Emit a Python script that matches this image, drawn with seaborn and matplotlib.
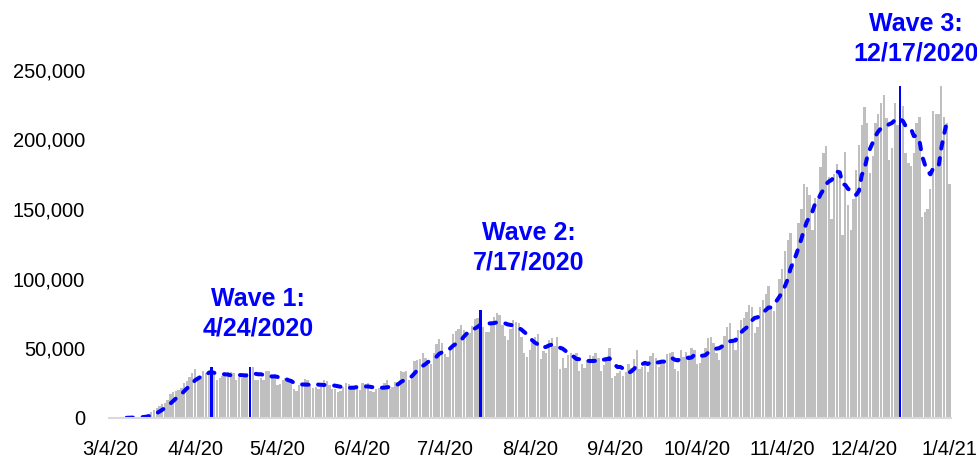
import numpy as np
import pandas as pd
import seaborn as sns
import matplotlib
matplotlib.use('Agg')
import matplotlib.pyplot as plt
import matplotlib.dates as mdates
from matplotlib.ticker import FuncFormatter

# Daily new cases (thousands).
mar = [0.03, 0.07, 0.06, 0.1, 0.1, 0.2, 0.3, 0.4, 0.5, 0.6, 0.7, 0.8, 1.3, 1.8,
       2.9, 4.6, 5.9, 7.0, 8.5, 10.3, 10.8, 12.6, 17.5, 18.7, 19.5, 19.8, 21.3, 24.9]  # 3/4 - 3/31
apr = [26.5, 29.5, 32.5, 35.0, 28.5, 30.0, 33.5, 32.5, 34.5, 36.6, 31.0, 27.5, 28.5, 30.0, 31.5,
       33.0, 33.0, 32.0, 27.0, 29.5, 29.0, 31.0, 32.0, 36.6, 36.5, 27.5, 27.0, 29.0, 27.5, 33.5]
may = [34.0, 29.5, 29.0, 24.0, 24.5, 27.0, 28.5, 27.5, 25.5, 20.5, 19.5, 24.0, 23.0, 28.0, 27.5,
       24.5, 21.5, 22.0, 21.0, 22.5, 27.0, 26.5, 24.0, 21.0, 20.5, 18.5, 19.5, 22.5, 25.0, 24.5, 22.0]
jun = [20.5, 21.5, 20.0, 25.0, 24.5, 25.0, 19.5, 18.5, 20.5, 21.5, 22.5, 25.0, 27.0, 21.0, 22.0,
       26.0, 25.5, 34.0, 33.0, 34.0, 27.0, 30.0, 41.0, 41.5, 42.0, 46.5, 43.0, 38.0, 38.5, 47.0]
jul = [53.0, 56.5, 54.0, 46.0, 44.0, 49.0, 60.0, 62.5, 64.0, 66.5, 63.0, 58.5, 61.0, 66.0, 71.0,
       72.0, 77.5, 65.0, 62.0, 61.5, 66.5, 72.5, 75.5, 74.0, 67.0, 58.5, 56.0, 64.0, 70.0, 69.0, 68.0]
aug = [58.0, 47.0, 44.0, 49.0, 53.5, 58.0, 60.5, 42.0, 48.0, 46.5, 56.0, 57.5, 52.0, 58.0, 35.0,
       43.0, 36.0, 45.0, 47.0, 44.0, 46.5, 34.0, 38.5, 36.0, 41.5, 45.5, 44.5, 47.0, 43.0, 33.5, 38.0]
sep = [44.0, 50.0, 28.5, 30.0, 32.0, 34.0, 30.0, 33.0, 39.0, 36.0, 42.5, 49.0, 35.0, 36.5, 39.0,
       33.0, 44.5, 47.0, 43.0, 36.5, 40.0, 39.5, 46.0, 47.0, 47.5, 35.5, 34.0, 48.5, 43.5, 47.5]
octo = [45.0, 50.0, 49.0, 38.5, 39.5, 43.5, 50.0, 57.5, 58.0, 53.5, 46.5, 41.5, 52.0, 58.5, 65.0,
        68.5, 56.0, 48.5, 63.0, 70.0, 72.0, 76.0, 81.0, 80.0, 61.0, 65.5, 80.0, 85.0, 89.0, 94.5, 80.0]
nov = [77.0, 84.0, 100.0, 107.0, 120.0, 128.0, 133.0, 111.0, 118.0, 140.0, 150.0, 168.0, 166.0, 160.0, 135.0,
       158.0, 157.0, 180.0, 190.0, 195.0, 173.0, 143.0, 175.0, 182.0, 176.0, 131.0, 191.0, 153.0, 135.0, 157.0]
dec = [178.0, 196.0, 210.0, 223.0, 212.0, 176.0, 188.0, 212.0, 218.0, 226.0, 232.0, 215.0, 185.0, 194.0, 226.0,
       210.0, 238.0, 224.0, 190.0, 183.0, 181.0, 190.0, 212.0, 216.0, 144.0, 148.0, 150.0, 164.0, 220.0, 218.0, 218.0]
jan = [238.0, 216.0, 212.0, 168.0]  # 1/1 - 1/4

# highlighted peak days (drawn as blue bars)
wave_dates = ['2020-04-10', '2020-04-24', '2020-07-17', '2020-12-17']
label_dates = ['2020-04-24', '2020-07-17', '2020-12-17']
wave_labels = ['Wave 1:\n4/24/2020', 'Wave 2:\n7/17/2020', 'Wave 3:\n12/17/2020']

dates = pd.date_range('2020-03-04', '2021-01-04', freq='D')
cases = np.concatenate([mar, apr, may, jun, jul, aug, sep, octo, nov, dec, jan]) * 1000

df = pd.DataFrame({'date': dates, 'cases': cases})
df['day'] = mdates.date2num(df['date'])
df['kind'] = np.where(df['date'].isin(pd.to_datetime(wave_dates)), 'wave', 'daily')
# 7-day moving average, like the Excel trendline
df['avg'] = df['cases'].rolling(7).mean()

sns.set_style('white')
plt.rcParams['font.family'] = ['Liberation Sans', 'DejaVu Sans']

fig = plt.figure(figsize=(9.78, 4.61), dpi=100)
ax = fig.add_axes([0.1111, 0.0933, 0.8612, 0.9067])

sns.barplot(data=df, x='day', y='cases', hue='kind', hue_order=['daily', 'wave'],
            palette={'daily': '#BFBFBF', 'wave': '#0000FF'}, native_scale=True,
            dodge=False, errorbar=None, saturation=1, width=0.85, linewidth=0,
            legend=False, ax=ax)
sns.lineplot(data=df, x='day', y='avg', color='#0000FF', linewidth=2.9,
             linestyle=(0, (1.6, 2.4)), dash_capstyle='round', ax=ax)

ax.set_xlim(df['day'].iloc[0] - 0.5, df['day'].iloc[-1] + 0.5)
ax.set_ylim(0, 300000)
ax.set_yticks(np.arange(0, 250001, 50000))
ax.yaxis.set_major_formatter(FuncFormatter(lambda v, p: f'{v:,.0f}'))

ticks = pd.date_range('2020-03-04', '2021-01-04', freq=pd.DateOffset(months=1))
ax.set_xticks(mdates.date2num(ticks), [f'{d.month}/{d.day}/{d:%y}' for d in ticks])

ax.tick_params(axis='x', length=6, width=1.5, color='#D9D9D9', pad=10, labelsize=14.5, labelcolor='black')
ax.tick_params(axis='y', length=0, pad=17, labelsize=14.5, labelcolor='black')
ax.set_xlabel('')
ax.set_ylabel('')

for side in ['top', 'right', 'left']:
    ax.spines[side].set_visible(False)
ax.spines['bottom'].set_color('#D9D9D9')
ax.spines['bottom'].set_linewidth(1.5)

# annotation layout: (shift in days, top of text)
label_pos = [(3, 94000), (17.6, 141500), (5.9, 291500)]
for lbl, d, (dx, ytop) in zip(wave_labels, label_dates, label_pos):
    x = mdates.date2num(pd.Timestamp(d)) + dx
    ax.text(x, ytop, lbl, ha='center', va='top', color='#0000FF', fontsize=18,
            fontweight='bold', linespacing=1.3, clip_on=False)

fig.savefig('out.png', dpi=100)
